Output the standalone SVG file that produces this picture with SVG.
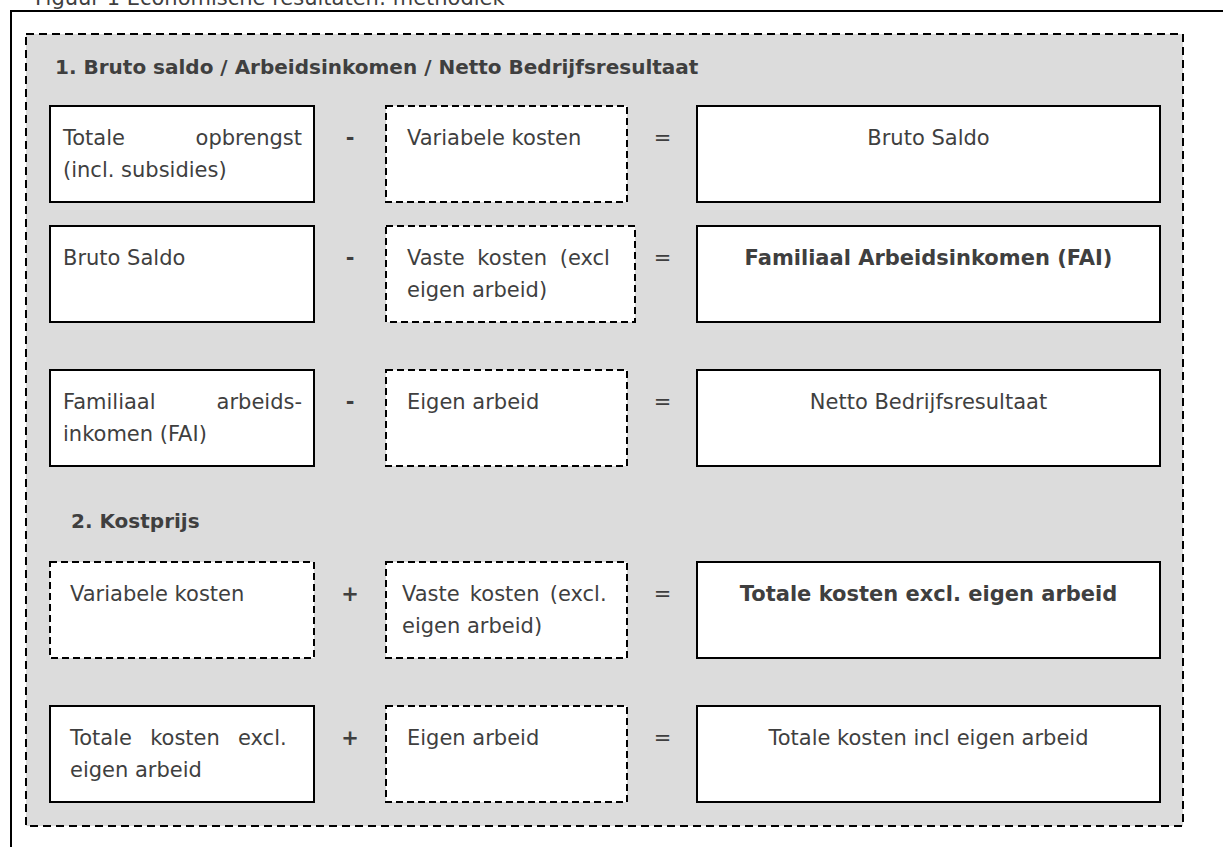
<svg xmlns="http://www.w3.org/2000/svg" width="1223" height="847" viewBox="0 0 1223 847">
<style>
text{font-family:"DejaVu Sans","Verdana",sans-serif;fill:#3f3f3f;font-size:21px}
.b{font-weight:bold}
.h{font-weight:bold;font-size:20px}
.c{text-anchor:middle}
.e{text-anchor:end}
.solid{fill:#fff;stroke:#000;stroke-width:2}
.dash{fill:#fff;stroke:#000;stroke-width:2;stroke-dasharray:7 4}
.op{font-weight:bold;text-anchor:middle}
.eq{text-anchor:middle}
</style>
<rect width="1223" height="847" fill="#fff"/>
<text x="35" y="5">Figuur 1 Economische resultaten: methodiek</text>
<g id="frame">
<path d="M1223 11 H11 V847" fill="none" stroke="#000" stroke-width="2"/>
</g>
<g id="panel">
<rect x="26" y="34" width="1157" height="792" fill="#dcdcdc" stroke="#000" stroke-width="2" stroke-dasharray="8 5"/>
</g>
<text class="h" x="55" y="74">1. Bruto saldo / Arbeidsinkomen / Netto Bedrijfsresultaat</text>
<text class="h" x="71" y="528">2. Kostprijs</text>

<g id="r1-left"><rect class="solid" x="50" y="106" width="264" height="96"/>
<text x="63" y="145">Totale</text><text class="e" x="302" y="145">opbrengst</text>
<text x="63" y="177">(incl. subsidies)</text></g>
<g id="r1-mid"><rect class="dash" x="386" y="106" width="241" height="96"/>
<text x="407" y="145">Variabele kosten</text></g>
<g id="r1-right"><rect class="solid" x="697" y="106" width="463" height="96"/>
<text class="c" x="928.5" y="145">Bruto Saldo</text></g>

<g id="r2-left"><rect class="solid" x="50" y="226" width="264" height="96"/>
<text x="63" y="265">Bruto Saldo</text></g>
<g id="r2-mid"><rect class="dash" x="386" y="226" width="249" height="96"/>
<text x="407" y="265" word-spacing="6">Vaste kosten (excl</text>
<text x="407" y="297">eigen arbeid)</text></g>
<g id="r2-right"><rect class="solid" x="697" y="226" width="463" height="96"/>
<text class="c b" x="928.5" y="265">Familiaal Arbeidsinkomen (FAI)</text></g>

<g id="r3-left"><rect class="solid" x="50" y="370" width="264" height="96"/>
<text x="63" y="409">Familiaal</text><text class="e" x="302" y="409">arbeids-</text>
<text x="63" y="441">inkomen (FAI)</text></g>
<g id="r3-mid"><rect class="dash" x="386" y="370" width="241" height="96"/>
<text x="407" y="409">Eigen arbeid</text></g>
<g id="r3-right"><rect class="solid" x="697" y="370" width="463" height="96"/>
<text class="c" x="928.5" y="409">Netto Bedrijfsresultaat</text></g>

<g id="r4-left"><rect class="dash" x="50" y="562" width="264" height="96"/>
<text x="70" y="601">Variabele kosten</text></g>
<g id="r4-mid"><rect class="dash" x="386" y="562" width="241" height="96"/>
<text x="402" y="601" word-spacing="3.5">Vaste kosten (excl.</text>
<text x="402" y="633">eigen arbeid)</text></g>
<g id="r4-right"><rect class="solid" x="697" y="562" width="463" height="96"/>
<text class="c b" x="928.5" y="601">Totale kosten excl. eigen arbeid</text></g>

<g id="r5-left"><rect class="solid" x="50" y="706" width="264" height="96"/>
<text x="70" y="745" word-spacing="11.5">Totale kosten excl.</text>
<text x="70" y="777">eigen arbeid</text></g>
<g id="r5-mid"><rect class="dash" x="386" y="706" width="241" height="96"/>
<text x="407" y="745">Eigen arbeid</text></g>
<g id="r5-right"><rect class="solid" x="697" y="706" width="463" height="96"/>
<text class="c" x="928.5" y="745">Totale kosten incl eigen arbeid</text></g>

<g id="connectors">
<text class="op" x="350" y="145">-</text>
<text class="op" x="350" y="265">-</text>
<text class="op" x="350" y="409">-</text>
<text class="op" x="350" y="601">+</text>
<text class="op" x="350" y="745">+</text>
<text class="eq" x="662.5" y="145">=</text>
<text class="eq" x="662.5" y="265">=</text>
<text class="eq" x="662.5" y="409">=</text>
<text class="eq" x="662.5" y="601">=</text>
<text class="eq" x="662.5" y="745">=</text>
</g>
</svg>
